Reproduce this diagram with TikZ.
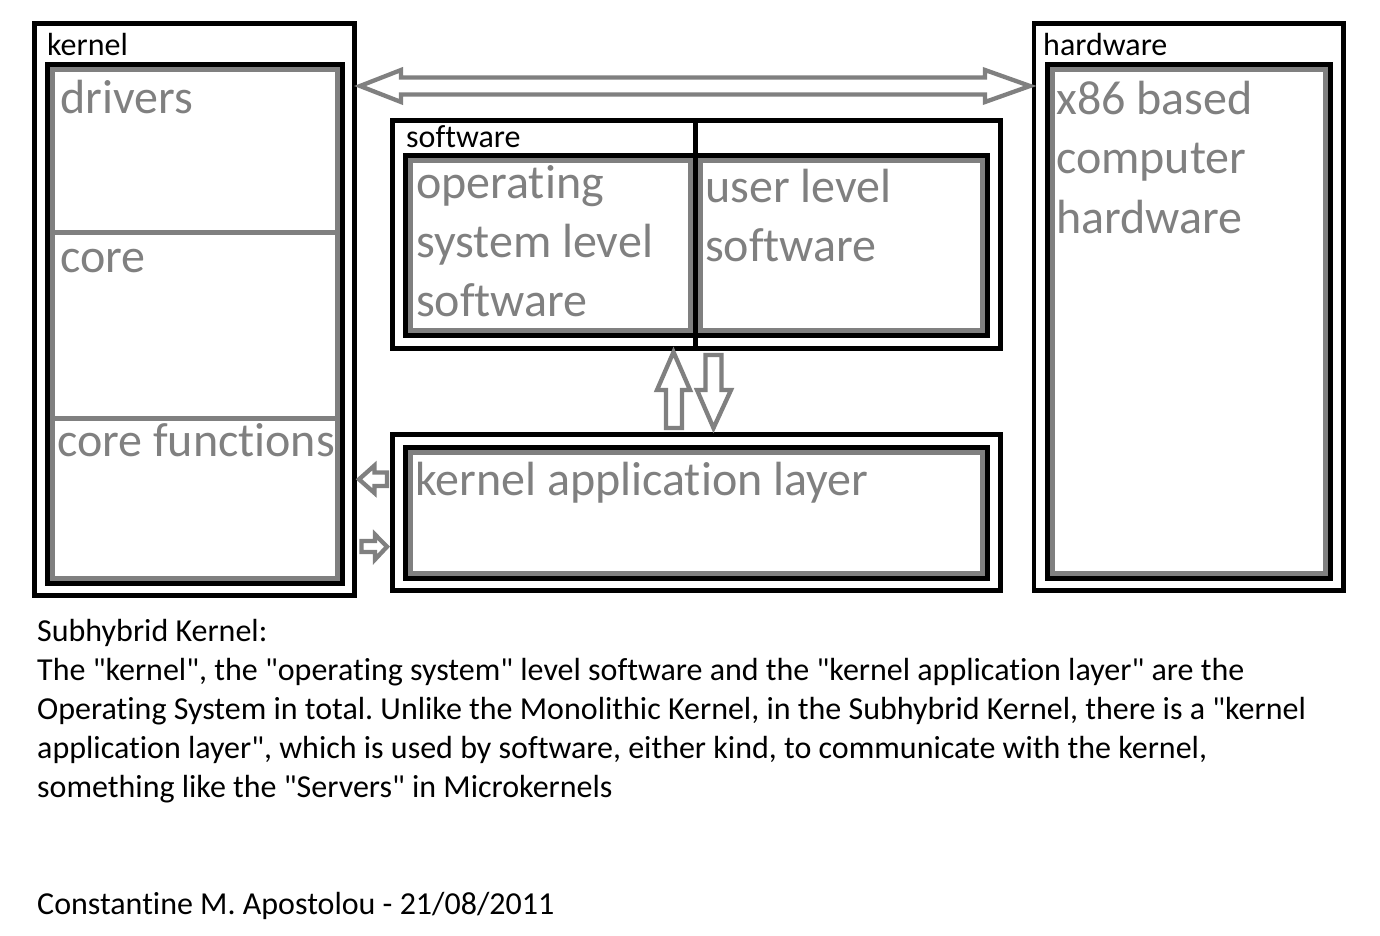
\documentclass[tikz,border=0pt]{standalone}
\usepackage{fontspec}
\setmainfont{Carlito}[Ligatures=NoCommon]
\definecolor{pgray}{RGB}{128,128,128}
\newcommand\dq{\XeTeXglyph\XeTeXcharglyph"22\relax}
\frenchspacing
\begin{document}
\begin{tikzpicture}[x=1pt,y=-1pt,
  outerbox/.style={draw=black,line width=4.8pt},
  innerbox/.style={draw=black,line width=5pt},
  graybox/.style={draw=pgray,line width=5pt},
  blockarrow/.style={draw=pgray,line width=4.3pt,line join=miter},
  lbl/.style={anchor=base west,inner sep=0pt,font=\fontsize{32}{39}\selectfont},
  big/.style={anchor=base west,inner sep=0pt,text=pgray,font=\fontsize{48}{59}\selectfont},
]
\useasboundingbox[fill=white] (0,0) rectangle (1380,936);

% kernel
\draw[outerbox] (34.7,23.5) rectangle (354.2,595.8);
\draw[innerbox] (47.5,64.5) rectangle (342.5,583.5);
\draw[graybox] (52.5,69.5) rectangle (337.5,578.5);
\draw[graybox] (52.5,232.5) -- (337.5,232.5);
\draw[graybox] (52.5,418.3) -- (337.5,418.3);
\node[lbl] (kernel) at (47,56) {kernel};
\node[big] (drivers) at (60,114) {drivers};
\node[big] (core) at (60,272) {core};
\node[big] (corefn) at (57,456) {core functions};

% software
\draw[outerbox] (392.5,120.5) rectangle (1000.5,348.5);
\draw[innerbox] (405.5,155.5) rectangle (987.5,335.5);
\draw[graybox] (410.5,160.5) rectangle (690.5,330.5);
\draw[graybox] (700.5,160.5) rectangle (982.5,330.5);
\draw[outerbox] (695.5,120.5) -- (695.5,348.5);
\node[lbl] (software) at (406,148) {software};
\node[big] (os1) at (416,198) {operating};
\node[big] (os2) at (416,257) {system level};
\node[big] (os3) at (416,316) {software};
\node[big] (ul1) at (705,202) {user level};
\node[big] (ul2) at (705,261) {software};

% kernel application layer
\draw[outerbox] (392.5,434.5) rectangle (1000.5,590.5);
\draw[innerbox] (405.5,447.5) rectangle (987.5,578.5);
\draw[graybox] (410.5,452.5) rectangle (982.5,573.5);
\node[big] (kal) at (415,495) {kernel application layer};

% hardware
\draw[outerbox] (1034,23.5) rectangle (1343.5,590.5);
\draw[innerbox] (1047,64.5) rectangle (1330.5,578.5);
\draw[graybox] (1052.5,69.5) rectangle (1325.5,573.5);
\node[lbl] (hardware) at (1043,56) {hardware};
\node[big] (hw1) at (1056,115) {x86 based};
\node[big] (hw2) at (1056,174) {computer};
\node[big] (hw3) at (1056,233) {hardware};

% block arrows
\draw[blockarrow] (360,86) -- (401,70) -- (401,77.5) -- (985,77.5) -- (985,70) -- (1030,86)
  -- (985,102) -- (985,94.5) -- (401,94.5) -- (401,102) -- cycle;
\draw[blockarrow] (673.5,352) -- (690,390) -- (682,390) -- (682,428) -- (666,428) -- (666,390)
  -- (657,390) -- cycle;
\draw[blockarrow] (705.5,355) -- (721.5,355) -- (721.5,390) -- (731,390) -- (713.5,428)
  -- (697,390) -- (705.5,390) -- cycle;
\draw[blockarrow] (359,479.3) -- (374.5,465.5) -- (374.5,472.5) -- (387,472.5) -- (387,486)
  -- (374.5,486) -- (374.5,493) -- cycle;
\draw[blockarrow] (361.5,541) -- (375,541) -- (375,534.5) -- (387,546.7) -- (375,559.5)
  -- (375,552) -- (361.5,552) -- cycle;

% caption
\node[lbl] (c1) at (37,641) {Subhybrid Kernel:};
\node[lbl] (c2) at (37,680) {The \dq kernel\dq, the \dq operating system\dq\ level software and the \dq kernel application layer\dq\ are the};
\node[lbl] (c3) at (37,719) {Operating System in total. Unlike the Monolithic Kernel, in the Subhybrid Kernel, there is a \dq kernel};
\node[lbl] (c4) at (37,758) {application layer\dq, which is used by software, either kind, to communicate with the kernel,};
\node[lbl] (c5) at (37,797) {something like the \dq Servers\dq\ in Microkernels};
\node[lbl] (c6) at (37,914) {Constantine M. Apostolou - 21/08/2011};
\end{tikzpicture}
\end{document}
